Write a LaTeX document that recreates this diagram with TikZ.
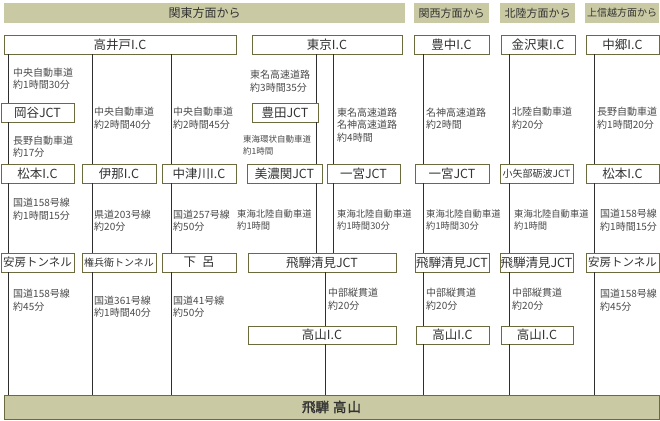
\documentclass[tikz,border=0pt]{standalone}
\usepackage{fontspec}
\setmainfont{Noto Sans CJK JP}
\newfontfamily\heavyjp[FakeBold=1.6]{Noto Sans CJK JP}
\usetikzlibrary{positioning}
\definecolor{headfill}{HTML}{C9C9A3}
\definecolor{boxedge}{HTML}{6B6B3E}
\definecolor{roadline}{HTML}{2E2E2E}
\definecolor{darktext}{HTML}{333333}
\definecolor{routetext}{HTML}{4A4A4A}
\tikzstyle{block} = [draw=boxedge, fill=white, rectangle, line width=0.9pt,
    minimum height=19pt, minimum width=74pt, inner sep=0pt, text=darktext,
    font=\fontsize{12.5}{13}\selectfont]
\tikzstyle{head} = [fill=headfill, rectangle, minimum height=20pt,
    inner sep=0pt, text=darktext, font=\fontsize{11}{12}\selectfont]
\tikzstyle{route} = [anchor=west, align=left, inner sep=0pt, text=routetext,
    font=\fontsize{10}{12.5}\selectfont]
\tikzstyle{road} = [draw=roadline, line width=1pt]

\begin{document}
\begin{tikzpicture}[x=1pt, y=-1pt]
      \useasboundingbox (0,0) rectangle (660,420);

      % headers
      \node [head, minimum width=401pt, font=\fontsize{12}{12}\selectfont] at (204.5,13) (kanto) {関東方面から};
      \node [head, minimum width=75pt] at (451.5,13) (kansai) {関西方面から};
      \node [head, minimum width=75pt] at (537.5,13) (hokuriku) {北陸方面から};
      \node [head, minimum width=74pt, font=\fontsize{10}{12}\selectfont] at (622,13) (joshinetsu) {上信越方面から};

      % starting points
      \node [block, minimum width=232pt] at (120,44.5) (takaido) {高井戸I.C};
      \node [block, minimum width=150pt] at (327,44.5) (tokyo) {東京I.C};
      \node [block, minimum width=75pt] at (451.5,44.5) (toyonaka) {豊中I.C};
      \node [block] at (538,44.5) (kanazawa) {金沢東I.C};
      \node [block, minimum width=73pt] at (622.5,44.5) (nakago) {中郷I.C};

      % junctions on the way
      \node [block, minimum width=73pt] at (37.5,112.5) (okaya) {岡谷JCT};
      \node [block, minimum width=66pt] at (285,112.5) (toyota) {豊田JCT};

      \node [block, minimum width=73pt] at (37.5,173.5) (matsumotoA) {松本I.C};
      \node [block] at (119,173.5) (ina) {伊那I.C};
      \node [block] at (199,173.5) (nakatsugawa) {中津川I.C};
      \node [block, minimum width=75pt] at (284.5,173.5) (minoseki) {美濃関JCT};
      \node [block, minimum width=73pt] at (363.5,173.5) (ichinomiyaA) {一宮JCT};
      \node [block] at (452,173.5) (ichinomiyaB) {一宮JCT};
      \node [block, minimum width=73pt, font=\fontsize{10}{12}\selectfont] at (536.5,173.5) (oyabe) {小矢部砺波JCT};
      \node [block, minimum width=73pt] at (622.5,173.5) (matsumotoB) {松本I.C};

      \node [block, minimum width=73pt, font=\fontsize{11.5}{12}\selectfont] at (37.5,262.5) (aboA) {安房トンネル};
      \node [block, font=\fontsize{10}{12}\selectfont] at (119,262.5) (gonbei) {権兵衛トンネル};
      \node [block] at (199,262.5) (gero) {下\hspace{6pt}呂};
      \node [block, minimum width=148pt] at (322,262.5) (kiyomiA) {飛騨清見JCT};
      \node [block] at (452,262.5) (kiyomiB) {飛騨清見JCT};
      \node [block, minimum width=73pt] at (536.5,262.5) (kiyomiC) {飛騨清見JCT};
      \node [block, minimum width=73pt, font=\fontsize{11.5}{12}\selectfont] at (622.5,262.5) (aboB) {安房トンネル};

      \node [block, minimum width=148pt, minimum height=18pt] at (322,335) (takayamaA) {高山I.C};
      \node [block, minimum width=73pt, minimum height=18pt] at (452.5,335) (takayamaB) {高山I.C};
      \node [block, minimum width=72pt, minimum height=18pt] at (537,335) (takayamaC) {高山I.C};

      % destination
      \node [block, fill=headfill, minimum width=655pt, minimum height=24pt,
          font=\fontsize{13.5}{14}\heavyjp] at (331.5,407) (hida) {飛騨\hspace{4pt}高\hspace{1pt}山};

      % the roads, one column at a time
      \coordinate (c1) at (8,0);
      \coordinate (c2) at (92,0);
      \coordinate (c3) at (171,0);
      \coordinate (c4) at (316,0);
      \coordinate (c5) at (333,0);
      \coordinate (c6) at (325,0);
      \coordinate (c7) at (423,0);
      \coordinate (c8) at (509,0);
      \coordinate (c9) at (594,0);

      \draw [road] (c1 |- takaido.south) -- (c1 |- okaya.north)
          (c1 |- okaya.south) -- (c1 |- matsumotoA.north)
          (c1 |- matsumotoA.south) -- (c1 |- aboA.north)
          (c1 |- aboA.south) -- (c1 |- hida.north);
      \draw [road] (c2 |- takaido.south) -- (c2 |- ina.north)
          (c2 |- ina.south) -- (c2 |- gonbei.north)
          (c2 |- gonbei.south) -- (c2 |- hida.north);
      \draw [road] (c3 |- takaido.south) -- (c3 |- nakatsugawa.north)
          (c3 |- nakatsugawa.south) -- (c3 |- gero.north)
          (c3 |- gero.south) -- (c3 |- hida.north);
      \draw [road] (c4 |- tokyo.south) -- (c4 |- toyota.north)
          (c4 |- toyota.south) -- (c4 |- minoseki.north)
          (c4 |- minoseki.south) -- (c4 |- kiyomiA.north);
      \draw [road] (c5 |- tokyo.south) -- (c5 |- ichinomiyaA.north)
          (c5 |- ichinomiyaA.south) -- (c5 |- kiyomiA.north);
      \draw [road] (c6 |- kiyomiA.south) -- (c6 |- takayamaA.north)
          (c6 |- takayamaA.south) -- (c6 |- hida.north);
      \draw [road] (c7 |- toyonaka.south) -- (c7 |- ichinomiyaB.north)
          (c7 |- ichinomiyaB.south) -- (c7 |- kiyomiB.north)
          (c7 |- kiyomiB.south) -- (c7 |- takayamaB.north)
          (c7 |- takayamaB.south) -- (c7 |- hida.north);
      \draw [road] (c8 |- kanazawa.south) -- (c8 |- oyabe.north)
          (c8 |- oyabe.south) -- (c8 |- kiyomiC.north)
          (c8 |- kiyomiC.south) -- (c8 |- takayamaC.north)
          (c8 |- takayamaC.south) -- (c8 |- hida.north);
      \draw [road] (c9 |- nakago.south) -- (c9 |- matsumotoB.north)
          (c9 |- matsumotoB.south) -- (c9 |- aboB.north)
          (c9 |- aboB.south) -- (c9 |- hida.north);

      % road names and times
      \node [route] at (13,78.5) (r1a) {中央自動車道\\約1時間30分};
      \node [route] at (13,146.5) (r1b) {長野自動車道\\約17分};
      \node [route] at (13,209) (r1c) {国道158号線\\約1時間15分};
      \node [route] at (13,300) (r1d) {国道158号線\\約45分};

      \node [route] at (94,118) (r2a) {中央自動車道\\約2時間40分};
      \node [route] at (94,220.5) (r2b) {県道203号線\\約20分};
      \node [route] at (94,306.5) (r2c) {国道361号線\\約1時間40分};

      \node [route] at (173,118) (r3a) {中央自動車道\\約2時間45分};
      \node [route] at (173,220.5) (r3b) {国道257号線\\約50分};
      \node [route] at (173,306.5) (r3c) {国道41号線\\約50分};

      \node [route] at (250,81) (r4a) {東名高速道路\\約3時間35分};
      \node [route, font=\fontsize{8.5}{12.5}\selectfont] at (243,145.5) (r4b) {東海環状自動車道\\約1時間};
      \node [route, font=\fontsize{9.3}{12.5}\selectfont] at (237,220) (r4c) {東海北陸自動車道\\約1時間};
      \node [route] at (337,125) (r5a) {東名高速道路\\名神高速道路\\約4時間};
      \node [route, font=\fontsize{9.3}{12.5}\selectfont] at (337,220) (r5b) {東海北陸自動車道\\約1時間30分};
      \node [route] at (328,299) (r6a) {中部縦貫道\\約20分};

      \node [route] at (426,118.5) (r7a) {名神高速道路\\約2時間};
      \node [route, font=\fontsize{9.3}{12.5}\selectfont] at (426,220) (r7b) {東海北陸自動車道\\約1時間30分};
      \node [route] at (426,299) (r7c) {中部縦貫道\\約20分};

      \node [route] at (512,118) (r8a) {北陸自動車道\\約20分};
      \node [route, font=\fontsize{9.3}{12.5}\selectfont] at (514,220) (r8b) {東海北陸自動車道\\約1時間};
      \node [route] at (512,299) (r8c) {中部縦貫道\\約20分};

      \node [route] at (597,118) (r9a) {長野自動車道\\約1時間20分};
      \node [route] at (600,220) (r9b) {国道158号線\\約1時間15分};
      \node [route] at (600,300) (r9c) {国道158号線\\約45分};
\end{tikzpicture}
\end{document}
